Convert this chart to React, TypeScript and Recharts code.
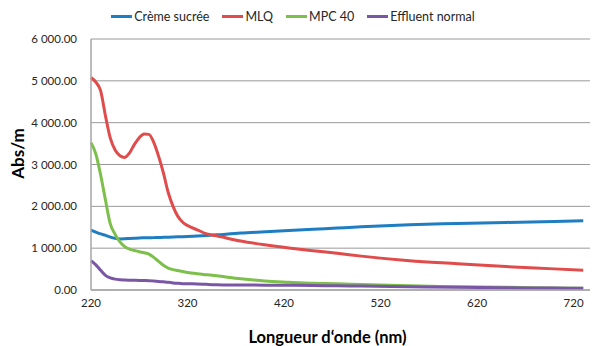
import { CartesianGrid, Legend, Line, LineChart, XAxis, YAxis } from "recharts";

const wavelengths = [
  220, 225, 230, 235, 240, 245, 250, 255, 260, 265, 270, 275, 280, 285, 290, 295, 300, 305, 310, 315, 320,
  330, 340, 350, 375, 400, 425, 450, 475, 500, 550, 600, 650, 700, 730,
];

const cremeSucree = [
  1434, 1385, 1340, 1305, 1265, 1235, 1222, 1225, 1232, 1238, 1244, 1248, 1250, 1252, 1255, 1258, 1262, 1266, 1270,
  1275, 1280, 1290, 1302, 1318, 1360, 1390, 1420, 1450, 1480, 1510, 1560, 1590, 1615, 1640, 1657,
];

const mlq = [
  5080, 4970, 4760, 4160, 3630, 3347, 3210, 3170, 3280, 3480, 3640, 3730, 3720, 3530, 3200, 2800, 2330, 2000, 1760,
  1620, 1540, 1440, 1340, 1295, 1170, 1080, 1005, 940, 880, 810, 700, 630, 560, 505, 470,
];

const mpc40 = [
  3522, 3250, 2750, 2150, 1580, 1330, 1150, 1036, 975, 945, 915, 890, 860, 780, 685, 590, 525, 488, 465, 440, 420,
  390, 365, 340, 270, 215, 185, 160, 150, 130, 100, 80, 65, 50, 40,
];

const effluentNormal = [
  701, 600, 470, 350, 290, 260, 245, 239, 235, 232, 228, 226, 224, 215, 205, 195, 185, 170, 160, 152, 148, 145, 135,
  127, 120, 115, 112, 108, 100, 95, 78, 65, 55, 45, 40,
];

const xTicks = [220, 320, 420, 520, 620, 720];
const yTicks = [0, 1000, 2000, 3000, 4000, 5000, 6000];

const series = [
  { key: "creme", name: "Crème sucrée", color: "#1f7dc2", values: cremeSucree },
  { key: "mlq", name: "MLQ", color: "#e04b4b", values: mlq },
  { key: "mpc", name: "MPC 40", color: "#7dbf4b", values: mpc40 },
  { key: "eff", name: "Effluent normal", color: "#7a57a5", values: effluentNormal },
];

const data = wavelengths.map((nm, i) => {
  const row: Record<string, number> = { nm };
  series.forEach((s) => (row[s.key] = s.values[i]));
  return row;
});

const fmt = (v: number) => {
  const [int, dec] = v.toFixed(2).split(".");
  return int.replace(/\B(?=(\d{3})+(?!\d))/g, " ") + "." + dec;
};

const font = "Lato, 'Open Sans', sans-serif";

function LegendRow() {
  return (
    <div
      style={{
        display: "flex",
        justifyContent: "center",
        gap: 13,
        height: 22,
        alignItems: "center",
        fontFamily: font,
        fontSize: 12.5,
        color: "#262626",
        paddingRight: 6,
      }}
    >
      {series.map((s) => (
        <div key={s.key} style={{ display: "flex", alignItems: "center", gap: 2 }}>
          <span style={{ display: "inline-block", width: 21, height: 3, background: s.color }} />
          <span>{s.name}</span>
        </div>
      ))}
    </div>
  );
}

export default function App() {
  return (
    <div style={{ position: "absolute", left: 0, top: 0, width: 592, height: 346, background: "#fff" }}>
      <LineChart width={592} height={346} data={data} margin={{ top: 17, right: 2, bottom: 0, left: 0 }}>
        <Legend verticalAlign="top" content={() => <LegendRow />} wrapperStyle={{ top: 5, left: 0, width: 592 }} />
        <CartesianGrid vertical={false} stroke="#999" strokeWidth={1} />
        <XAxis
          dataKey="nm"
          type="number"
          domain={[220, 737]}
          ticks={xTicks}
          height={56}
          tickSize={0}
          tickMargin={9}
          axisLine={{ stroke: "#a6a6a6", strokeWidth: 1.5 }}
          tick={{ fill: "#262626", fontSize: 11.5, fontFamily: font }}
          label={{
            value: "Longueur d‘onde (nm)",
            position: "insideBottom",
            offset: 3,
            dx: -13,
            style: { fill: "#000", fontSize: 16.5, fontWeight: 700, fontFamily: font },
          }}
        />
        <YAxis
          domain={[0, 6000]}
          ticks={yTicks}
          width={91}
          tickSize={0}
          tickMargin={14}
          tickFormatter={fmt}
          axisLine={{ stroke: "#a6a6a6", strokeWidth: 1.5 }}
          tick={{ fill: "#262626", fontSize: 11.5, fontFamily: font }}
          label={{
            value: "Abs/m",
            angle: -90,
            position: "insideLeft",
            offset: 18,
            dy: -11,
            style: { textAnchor: "middle", fill: "#000", fontSize: 17, fontWeight: 700, fontFamily: font },
          }}
        />
        {series.map((s) => (
          <Line
            key={s.key}
            type="monotone"
            dataKey={s.key}
            name={s.name}
            stroke={s.color}
            strokeWidth={3}
            dot={false}
            isAnimationActive={false}
          />
        ))}
      </LineChart>
    </div>
  );
}
